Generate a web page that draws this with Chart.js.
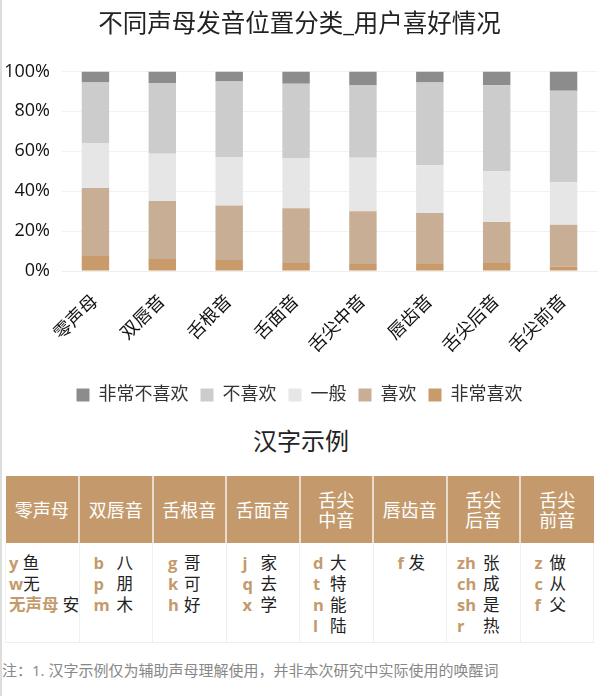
<!DOCTYPE html>
<html>
<head>
<meta charset="utf-8">
<script src="https://cdn.jsdelivr.net/npm/chart.js@4"></script>
<style>
  html, body { margin: 0; padding: 0; background: #fff; }
  body {
    width: 600px; height: 696px; overflow: hidden; box-sizing: border-box;
    border-left: 2px solid #ddd; position: relative;
    font-family: "Open Sans", "Noto Sans CJK SC", sans-serif;
  }
  #wrap { position: relative; width: 598px; height: 420px; }
  h2 {
    margin: 0; height: 42px; line-height: 42px; text-align: center;
    font-weight: normal; font-size: 24px; color: #222;
  }
  table {
    margin: 14px 0 0 3px; width: 589px; border-collapse: collapse; table-layout: fixed;
  }
  th {
    background: #c49a6c; color: #fff; font-weight: normal; height: 67px;
    border-left: 2px solid #e9dccd; line-height: 20px; padding: 0; font-size: 18px;
  }
  th:first-child { border-left: none; }
  td {
    vertical-align: top; height: 90px; padding: 9px 0 0 0; line-height: 21px;
    border-left: 1px solid #f0f0f0; border-bottom: 1px solid #eee; color: #222;
    font-size: 16.5px; white-space: nowrap;
  }
  td:first-child { border-left: 1px solid #f3f3f3; }
  td:last-child { border-right: 1px solid #eee; }
  .k { color: #c49a6c; font-weight: bold; display: inline-block; }
  .note { position: absolute; left: 0; top: 659px; font-size: 15px; color: #888; }
</style>
</head>
<body>
<div id="wrap"><canvas id="c"></canvas></div>
<h2>汉字示例</h2>
<table id="t"></table>
<div class="note">注：1. 汉字示例仅为辅助声母理解使用，并非本次研究中实际使用的唤醒词</div>
<script>
const categories = ['零声母', '双唇音', '舌根音', '舌面音', '舌尖中音', '唇齿音', '舌尖后音', '舌尖前音'];
const veryLike = [7.5, 6.0, 5.5, 4.0, 3.5, 3.5, 4.0, 2.2];
const like = [34.1, 29.1, 27.3, 27.4, 26.4, 25.6, 20.6, 21.0];
const neutral = [22.5, 23.6, 24.1, 25.0, 26.8, 23.9, 25.4, 21.3];
const dislike = [30.4, 35.5, 38.1, 37.4, 36.5, 41.5, 43.0, 45.8];
const veryDislike = [5.5, 5.8, 5.0, 6.2, 6.8, 5.5, 7.0, 9.7];
const yTicks = [0, 20, 40, 60, 80, 100];

// example characters per column: [initial, character]
const tableHeads = ['零声母', '双唇音', '舌根音', '舌面音', '舌尖<br>中音', '唇齿音', '舌尖<br>后音', '舌尖<br>前音'];
const tableRows = [
  [['y', ' 鱼'], ['w', '无'], ['无声母', ' 安']],
  [['b', '八'], ['p', '朋'], ['m', '木']],
  [['g', '哥'], ['k', '可'], ['h', '好']],
  [['j', '家'], ['q', '去'], ['x', '学']],
  [['d', '大'], ['t', '特'], ['n', '能'], ['l', '陆']],
  [['f', '发']],
  [['zh', '张'], ['ch', '成'], ['sh', '是'], ['r', '热']],
  [['z', '做'], ['c', '从'], ['f', '父']]
];
const cellPad = [3, 14, 15, 16, 13, 24, 10, 14];
const keyWidth = [0, 23, 16, 18, 17, 11, 26, 15];

const t = document.getElementById('t');
let html = '<tr>' + tableHeads.map(h => '<th>' + h + '</th>').join('') + '</tr><tr>';
tableRows.forEach((rows, i) => {
  const w = keyWidth[i] ? ' style="width:' + keyWidth[i] + 'px"' : '';
  html += '<td style="padding-left:' + cellPad[i] + 'px">' +
    rows.map(r => '<span class="k"' + w + '>' + r[0] + '</span>' + r[1]).join('<br>') + '</td>';
});
t.innerHTML = html + '</tr>';

const font = '"Open Sans", "Noto Sans CJK SC", sans-serif';
new Chart(document.getElementById('c'), {
  type: 'bar',
  data: {
    labels: categories,
    datasets: [
      { label: '非常喜欢', data: veryLike, backgroundColor: '#c99a6a' },
      { label: '喜欢', data: like, backgroundColor: '#c8ae95' },
      { label: '一般', data: neutral, backgroundColor: '#e6e6e6' },
      { label: '不喜欢', data: dislike, backgroundColor: '#cccccc' },
      { label: '非常不喜欢', data: veryDislike, backgroundColor: '#8c8c8c' }
    ]
  },
  options: {
    responsive: true,
    maintainAspectRatio: false,
    animation: false,
    layout: { padding: { left: 0, right: 3, top: 0, bottom: 6 } },
    datasets: { bar: { barPercentage: 0.41, categoryPercentage: 1 } },
    plugins: {
      title: {
        display: true,
        text: '不同声母发音位置分类_用户喜好情况',
        color: '#222',
        font: { family: font, size: 24.5, weight: 'normal' },
        padding: { top: 10, bottom: 32 }
      },
      legend: {
        position: 'bottom',
        reverse: true,
        labels: {
          boxWidth: 13, boxHeight: 13, padding: 12, color: '#333',
          font: { family: font, size: 18 }
        }
      },
      tooltip: { enabled: false }
    },
    scales: {
      x: {
        stacked: true,
        grid: { display: false },
        border: { color: '#eeeeee' },
        afterFit: axis => { axis.height = 103; },
        ticks: {
          color: '#111', maxRotation: 45, minRotation: 45, padding: 12,
          font: { family: font, size: 18 }
        }
      },
      y: {
        stacked: true,
        min: 0, max: 100,
        afterBuildTicks: axis => { axis.ticks = yTicks.map(v => ({ value: v })); },
        afterFit: axis => { axis.width = 60; },
        grid: { color: '#f2f2f2', drawTicks: false },
        border: { display: false },
        ticks: {
          color: '#111', padding: 12,
          font: { family: font, size: 18 },
          callback: v => v + '%'
        }
      }
    }
  }
});
</script>
</body>
</html>
